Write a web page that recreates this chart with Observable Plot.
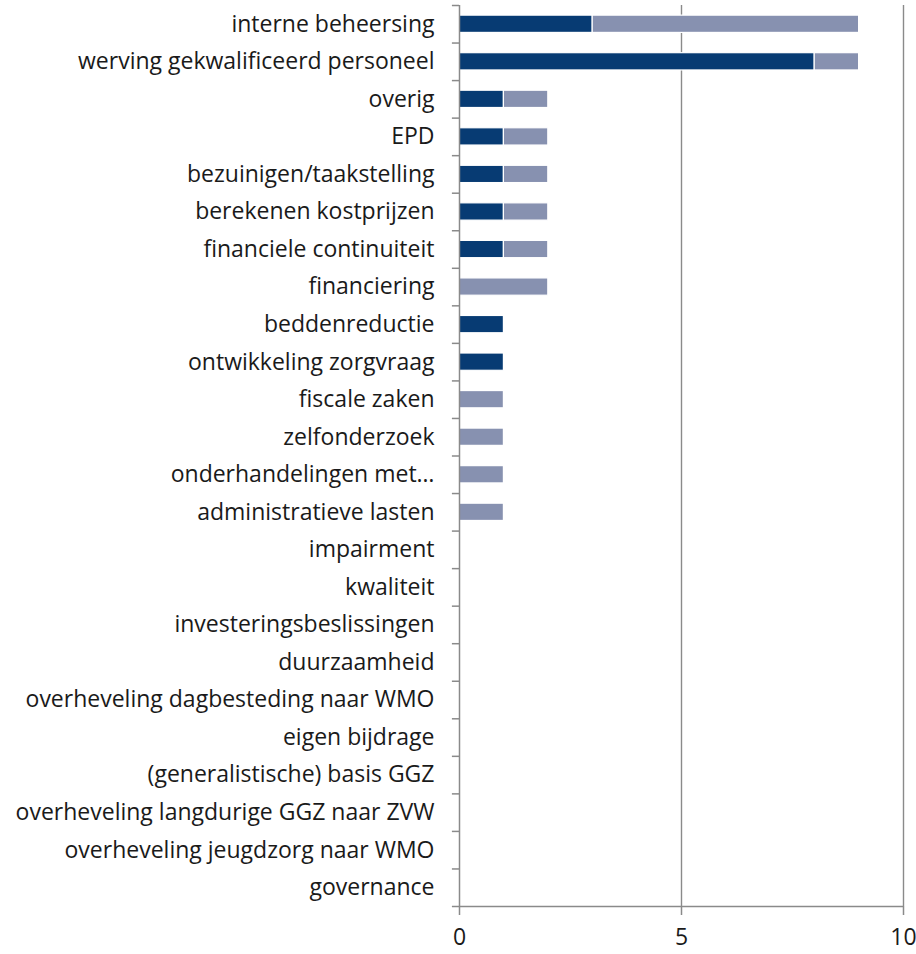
<!DOCTYPE html>
<html>
<head>
<meta charset="utf-8">
<script src="https://cdn.jsdelivr.net/npm/d3@7"></script>
<script src="https://cdn.jsdelivr.net/npm/@observablehq/plot@0.6"></script>
<style>
  html, body { margin: 0; padding: 0; background: #fff; }
</style>
</head>
<body>
<div id="chart"></div>
<script>
const categories = [
  "interne beheersing",
  "werving gekwalificeerd personeel",
  "overig",
  "EPD",
  "bezuinigen/taakstelling",
  "berekenen kostprijzen",
  "financiele continuiteit",
  "financiering",
  "beddenreductie",
  "ontwikkeling zorgvraag",
  "fiscale zaken",
  "zelfonderzoek",
  "onderhandelingen met…",
  "administratieve lasten",
  "impairment",
  "kwaliteit",
  "investeringsbeslissingen",
  "duurzaamheid",
  "overheveling dagbesteding naar WMO",
  "eigen bijdrage",
  "(generalistische) basis GGZ",
  "overheveling langdurige GGZ naar ZVW",
  "overheveling jeugdzorg naar WMO",
  "governance"
];
const seriesA = [3, 8, 1, 1, 1, 1, 1, 0, 1, 1, 0, 0, 0, 0, 0, 0, 0, 0, 0, 0, 0, 0, 0, 0];
const seriesB = [6, 1, 1, 1, 1, 1, 1, 2, 0, 0, 1, 1, 1, 1, 0, 0, 0, 0, 0, 0, 0, 0, 0, 0];
const seriesNames = ["A", "B"];
const xTicks = [0, 5, 10];

const data = [];
categories.forEach((c, i) => {
  data.push({cat: c, series: seriesNames[0], value: seriesA[i]});
  data.push({cat: c, series: seriesNames[1], value: seriesB[i]});
});

const W = 916, H = 954;
const mTop = 5, mBottom = 48, mLeft = 459, mRight = 13;
const step = (H - mTop - mBottom) / categories.length;
const grey = "#8a8a8a";

const chart = Plot.plot({
  width: W,
  height: H,
  marginTop: mTop,
  marginBottom: mBottom,
  marginLeft: mLeft,
  marginRight: mRight,
  style: {fontFamily: "'Open Sans', sans-serif", background: "#fff", overflow: "visible"},
  x: {domain: [0, 10], ticks: xTicks, label: null, round: false},
  y: {domain: categories, paddingInner: 0.54, paddingOuter: 0.27, round: false, label: null},
  color: {domain: seriesNames, range: ["#073b73", "#8791b0"]},
  marks: [
    Plot.ruleX(xTicks.filter(d => d > 0), {stroke: grey, strokeWidth: 1.4, strokeOpacity: 1}),
    Plot.barX(data.filter(d => d.value > 0), Plot.stackX({
      x: "value", y: "cat", fill: "series", order: seriesNames,
      stroke: "#fff", strokeWidth: 1.2
    })),
    Plot.ruleX([0], {stroke: grey, strokeWidth: 1.5}),
    Plot.ruleY([categories[categories.length - 1]], {x1: -0.16, x2: 10, dy: step / 2, stroke: grey, strokeWidth: 1.5}),
    Plot.ruleY(categories, {x1: -0.16, x2: 0, dy: -step / 2, stroke: grey, strokeWidth: 1.5}),
    Plot.axisY({tickSize: 0, tickPadding: 25, fontSize: 23, fill: "#1a1a1a", textAnchor: "end"}),
    Plot.axisX({ticks: xTicks, tickSize: 9, tickPadding: 13, fontSize: 23, fill: "#1a1a1a", stroke: grey, strokeWidth: 1.5})
  ]
});
document.getElementById("chart").appendChild(chart);
</script>
</body>
</html>
